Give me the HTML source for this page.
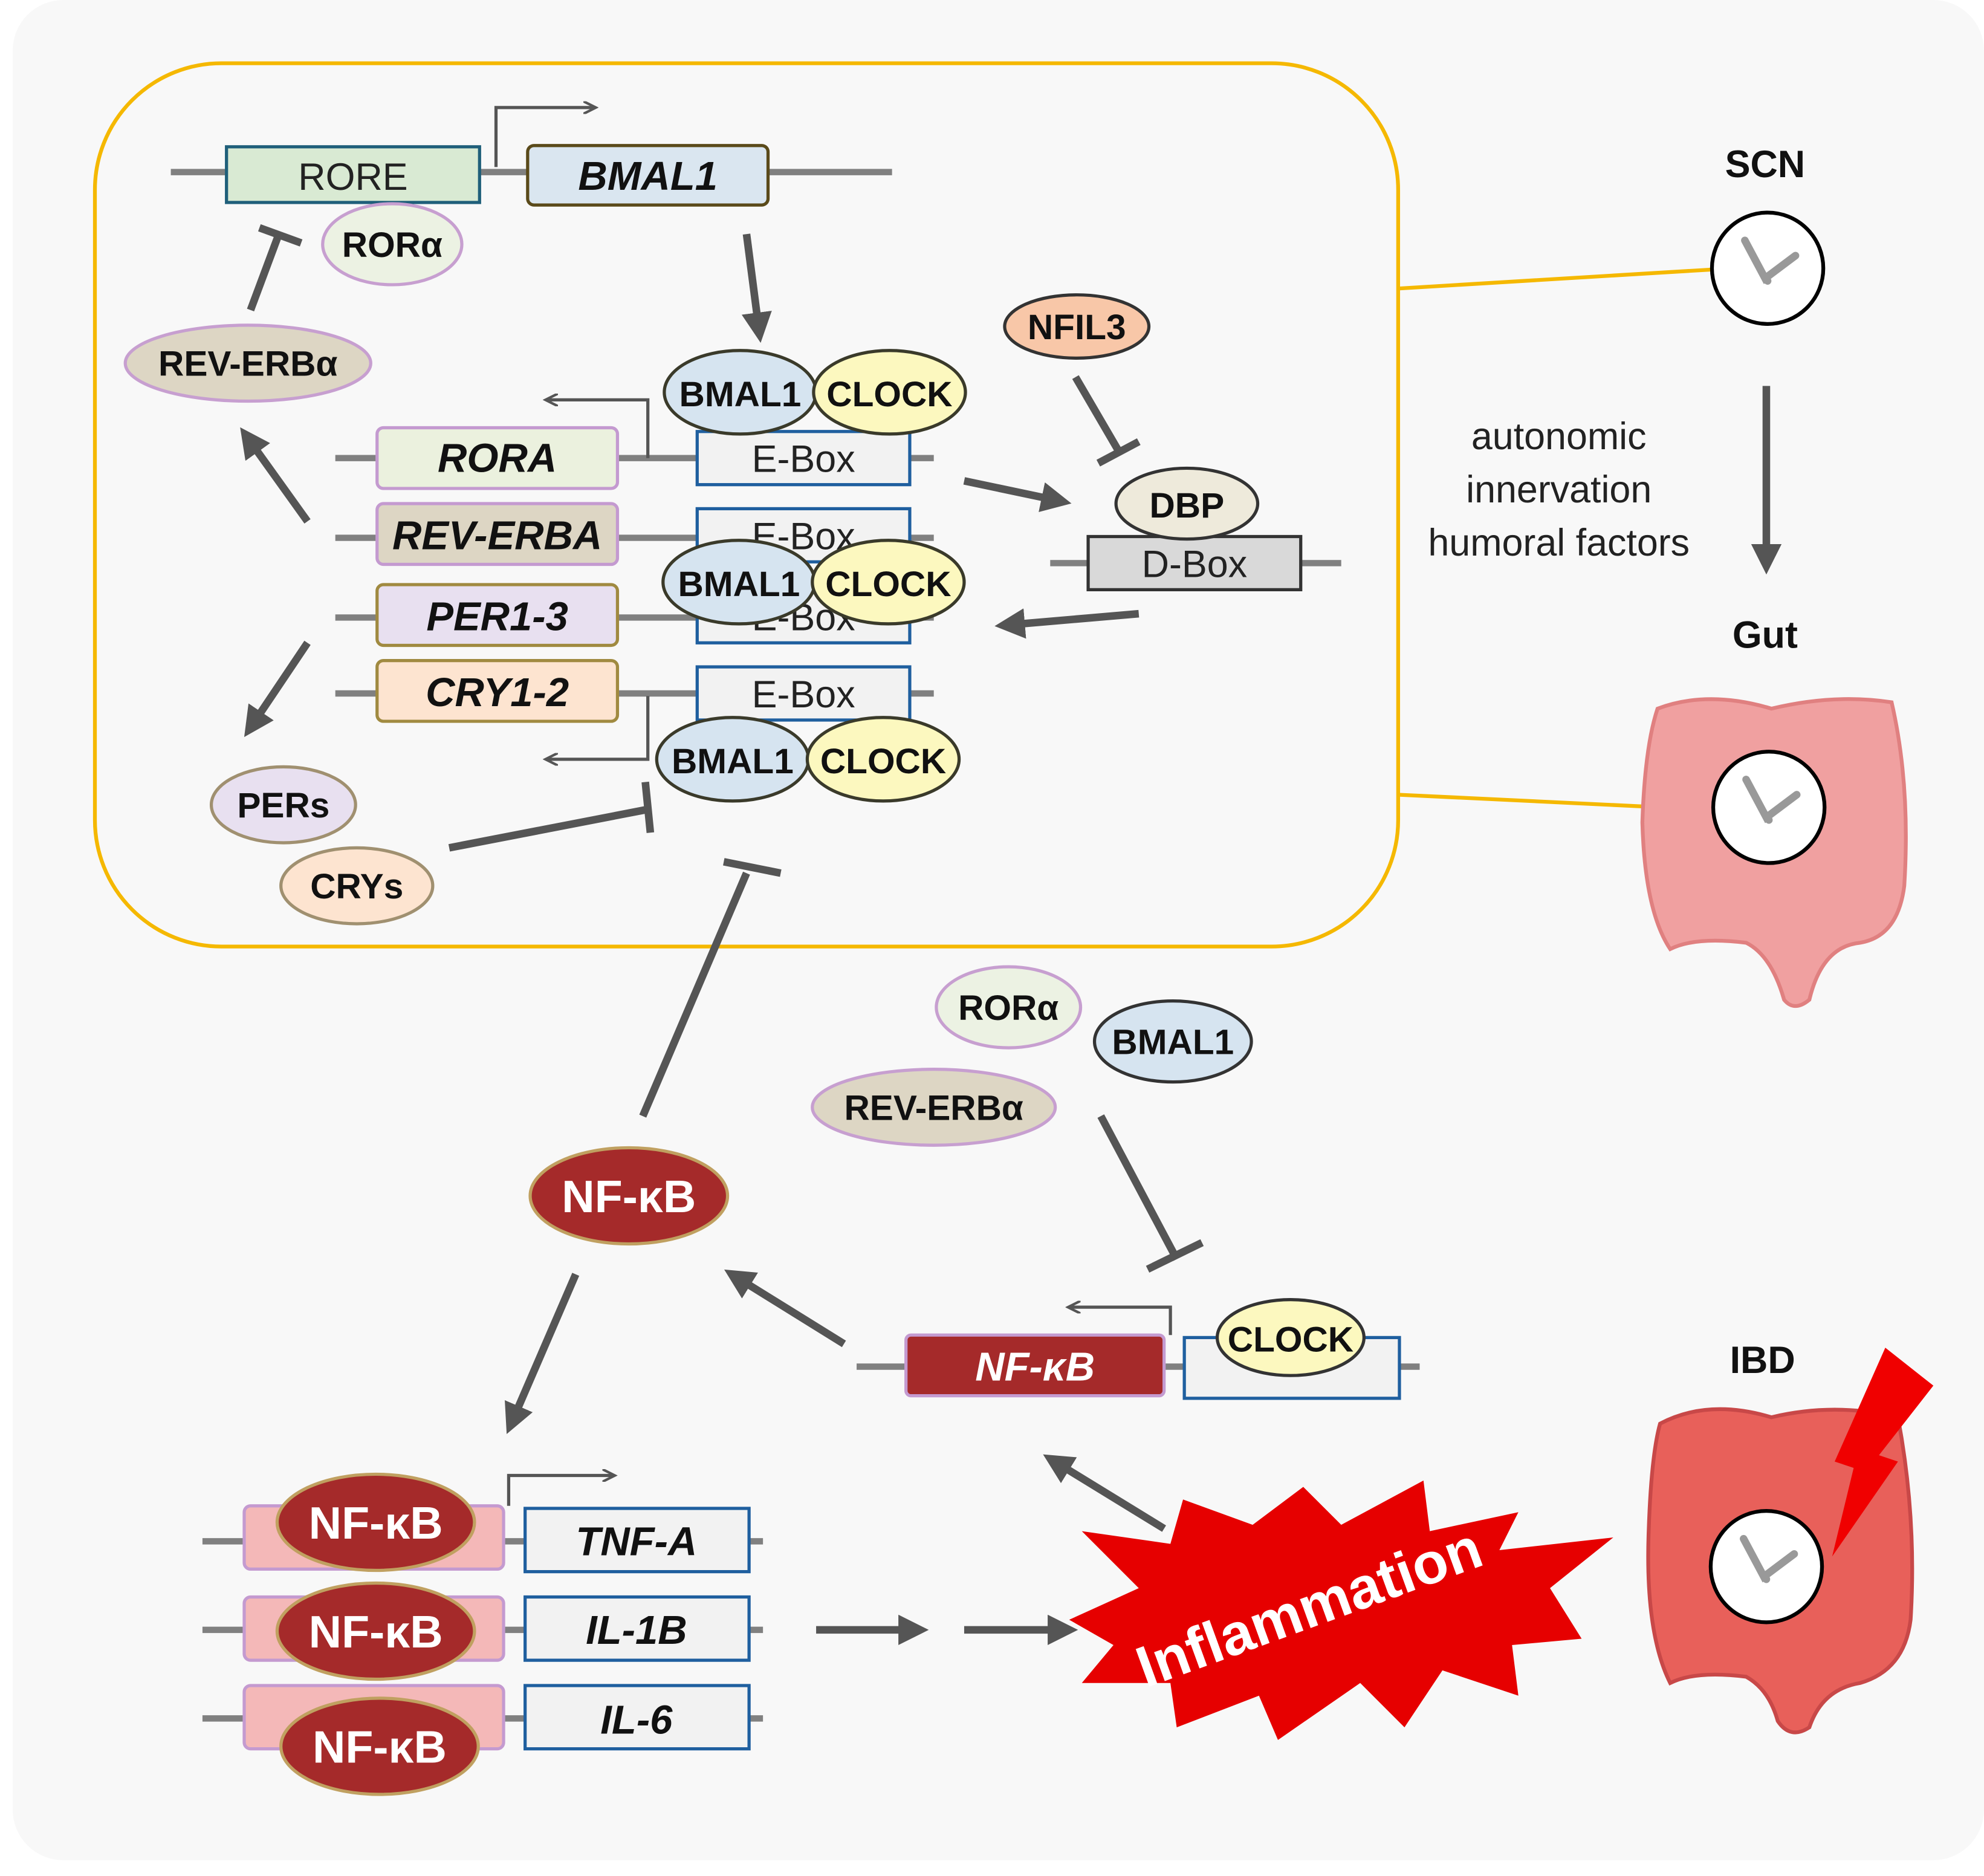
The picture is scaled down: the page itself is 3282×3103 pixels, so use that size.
<!DOCTYPE html>
<html><head><meta charset="utf-8"><style>
html,body{margin:0;padding:0;background:#fff;}
svg{display:block;}
text{font-family:"Liberation Sans",sans-serif;}
</style></head><body>
<svg width="3282" height="3103" viewBox="0 0 1568 1482.5" xmlns="http://www.w3.org/2000/svg">
<defs>
<marker id="ah" markerWidth="4" markerHeight="4" refX="2.5" refY="2" orient="auto" markerUnits="strokeWidth"><path d="M0,0 L4,2 L0,4 z" fill="#555"/></marker>
<marker id="ta" markerWidth="12" markerHeight="10" refX="9" refY="5" orient="auto" markerUnits="userSpaceOnUse"><path d="M0,0 L10,5 L0,10" fill="none" stroke="#555" stroke-width="2"/></marker>
<g id="clk"><circle r="44" fill="#fff" stroke="#000" stroke-width="3"/><path d="M-18,-22 L-2,8 L22,-10 M-2,8 L0,10" stroke="#999" stroke-width="6" fill="none" stroke-linecap="round"/></g>
</defs>
<rect x="10" y="0" width="1558" height="1470" rx="40" fill="#f8f8f8"/>
<rect x="75" y="50" width="1030" height="698" rx="100" fill="none" stroke="#f5b800" stroke-width="3"/>
<g fill="none" stroke="#808080" stroke-width="5">
<line x1="135" y1="136" x2="705" y2="136"/>
<line x1="265" y1="362" x2="738" y2="362"/><line x1="265" y1="425" x2="738" y2="425"/>
<line x1="265" y1="488" x2="738" y2="488"/><line x1="265" y1="548" x2="738" y2="548"/>
<line x1="830" y1="445" x2="1060" y2="445"/>
<line x1="677" y1="1080" x2="1122" y2="1080"/>
<line x1="160" y1="1218" x2="603" y2="1218"/><line x1="160" y1="1288" x2="603" y2="1288"/><line x1="160" y1="1358" x2="603" y2="1358"/>
</g>
<g stroke-width="2.5">
<rect x="179" y="116" width="200" height="44" fill="#d9ead3" stroke="#1f5f7a"/>
<rect x="417" y="115" width="190" height="47" rx="5" fill="#dae6f0" stroke="#5a4a1a"/>
<rect x="298" y="338" width="190" height="48" rx="5" fill="#ebf1de" stroke="#c49ad0"/>
<rect x="298" y="398" width="190" height="48" rx="5" fill="#ddd6c4" stroke="#c49ad0"/>
<rect x="298" y="462" width="190" height="48" rx="5" fill="#e8e0f0" stroke="#a08a40"/>
<rect x="298" y="522" width="190" height="48" rx="5" fill="#fde4d0" stroke="#a08a40"/>
<rect x="551" y="341" width="168" height="42" fill="#f2f2f2" stroke="#1f5f9f"/>
<rect x="551" y="402" width="168" height="42" fill="#f2f2f2" stroke="#1f5f9f"/>
<rect x="551" y="466" width="168" height="42" fill="#f2f2f2" stroke="#1f5f9f"/>
<rect x="551" y="527" width="168" height="42" fill="#f2f2f2" stroke="#1f5f9f"/>
<rect x="860" y="424" width="168" height="42" fill="#d9d9d9" stroke="#333"/>
<rect x="716" y="1055" width="204" height="48" rx="4" fill="#a52a2a" stroke="#c49ad0"/>
<rect x="936" y="1057" width="170" height="48" fill="#f2f2f2" stroke="#1f5f9f"/>
<rect x="193" y="1190" width="205" height="50" rx="5" fill="#f4b8b8" stroke="#c49ad0"/>
<rect x="193" y="1262" width="205" height="50" rx="5" fill="#f4b8b8" stroke="#c49ad0"/>
<rect x="193" y="1332" width="205" height="50" rx="5" fill="#f4b8b8" stroke="#c49ad0"/>
<rect x="415" y="1192" width="177" height="50" fill="#f2f2f2" stroke="#1f5f9f"/>
<rect x="415" y="1262" width="177" height="50" fill="#f2f2f2" stroke="#1f5f9f"/>
<rect x="415" y="1332" width="177" height="50" fill="#f2f2f2" stroke="#1f5f9f"/>
</g>
<g font-size="30" text-anchor="middle" fill="#222">
<text x="279" y="150">RORE</text>
<text x="635" y="373">E-Box</text><text x="635" y="434">E-Box</text><text x="635" y="498">E-Box</text><text x="635" y="559">E-Box</text>
<text x="944" y="456">D-Box</text>
</g>
<g font-size="32" font-weight="bold" font-style="italic" text-anchor="middle" fill="#111">
<text x="512" y="150">BMAL1</text><text x="393" y="373">RORA</text><text x="393" y="434">REV-ERBA</text>
<text x="393" y="498">PER1-3</text><text x="393" y="558">CRY1-2</text>
<text x="503" y="1229">TNF-A</text><text x="503" y="1299">IL-1B</text><text x="503" y="1370">IL-6</text>
<text x="818" y="1091" fill="#fff">NF-κB</text>
</g>
<!-- promoter arrows -->
<g fill="none" stroke="#555" stroke-width="2.5">
<path d="M392,132 V85 H470" marker-end="url(#ta)"/>
<path d="M512,362 V316 H432" marker-end="url(#ta)"/>
<path d="M512,550 V600 H432" marker-end="url(#ta)"/>
<path d="M925,1055 V1033 H845" marker-end="url(#ta)"/>
<path d="M402,1190 V1166 H485" marker-end="url(#ta)"/>
</g>
<!-- ellipses -->
<g stroke-width="2.5">
<ellipse cx="310" cy="193" rx="55" ry="32" fill="#ecf2e3" stroke="#c79fd0"/>
<ellipse cx="196" cy="287" rx="97" ry="30" fill="#ddd6c4" stroke="#c79fd0"/>
<ellipse cx="585" cy="310" rx="60" ry="33" fill="#d6e4f0" stroke="#3a3a2a"/>
<ellipse cx="703" cy="310" rx="60" ry="33" fill="#fcf8bf" stroke="#3a3a2a"/>
<ellipse cx="584" cy="460" rx="60" ry="33" fill="#d6e4f0" stroke="#3a3a2a"/>
<ellipse cx="702" cy="460" rx="60" ry="33" fill="#fcf8bf" stroke="#3a3a2a"/>
<ellipse cx="579" cy="600" rx="60" ry="33" fill="#d6e4f0" stroke="#3a3a2a"/>
<ellipse cx="698" cy="600" rx="60" ry="33" fill="#fcf8bf" stroke="#3a3a2a"/>
<ellipse cx="224" cy="636" rx="57" ry="30" fill="#e8e0f0" stroke="#a09070"/>
<ellipse cx="282" cy="700" rx="60" ry="30" fill="#fde4d0" stroke="#a09070"/>
<ellipse cx="851" cy="258" rx="57" ry="25" fill="#f8c7a8" stroke="#333"/>
<ellipse cx="938" cy="398" rx="56" ry="28" fill="#eeeadb" stroke="#333"/>
<ellipse cx="797" cy="796" rx="57" ry="32" fill="#ecf2e3" stroke="#c79fd0"/>
<ellipse cx="927" cy="823" rx="62" ry="32" fill="#d6e4f0" stroke="#333"/>
<ellipse cx="738" cy="875" rx="96" ry="30" fill="#ddd6c4" stroke="#c79fd0"/>
<ellipse cx="1020" cy="1057" rx="58" ry="30" fill="#fcf8bf" stroke="#333"/>
<ellipse cx="497" cy="945" rx="78" ry="38" fill="#a52a2a" stroke="#c0a060"/>
<ellipse cx="297" cy="1203" rx="78" ry="38" fill="#a52a2a" stroke="#c0a060"/>
<ellipse cx="297" cy="1289" rx="78" ry="38" fill="#a52a2a" stroke="#c0a060"/>
<ellipse cx="300" cy="1380" rx="78" ry="38" fill="#a52a2a" stroke="#c0a060"/>
</g>
<g font-size="28" font-weight="bold" text-anchor="middle" fill="#111">
<text x="310" y="203">RORα</text><text x="196" y="297">REV-ERBα</text>
<text x="585" y="321">BMAL1</text><text x="703" y="321">CLOCK</text>
<text x="584" y="471">BMAL1</text><text x="702" y="471">CLOCK</text>
<text x="579" y="611">BMAL1</text><text x="698" y="611">CLOCK</text>
<text x="224" y="646">PERs</text><text x="282" y="710">CRYs</text>
<text x="851" y="268">NFIL3</text><text x="938" y="409">DBP</text>
<text x="797" y="806">RORα</text><text x="927" y="833">BMAL1</text><text x="738" y="885">REV-ERBα</text>
<text x="1020" y="1068">CLOCK</text>
</g>
<g font-size="36" font-weight="bold" text-anchor="middle" fill="#fff">
<text x="497" y="958">NF-κB</text><text x="297" y="1216">NF-κB</text><text x="297" y="1302">NF-κB</text><text x="300" y="1393">NF-κB</text>
</g>
<!-- arrows -->
<g stroke="#555" stroke-width="6" fill="none" marker-end="url(#ah)">
<line x1="590" y1="185" x2="600" y2="262"/>
<line x1="243" y1="412" x2="195" y2="345"/>
<line x1="243" y1="508" x2="198" y2="575"/>
<line x1="762" y1="380" x2="838" y2="396"/>
<line x1="900" y1="485" x2="795" y2="494"/>
<line x1="1396" y1="305" x2="1396" y2="445"/>
<line x1="667" y1="1062" x2="580" y2="1008"/>
<line x1="455" y1="1007" x2="404" y2="1125"/>
<line x1="920" y1="1208" x2="832" y2="1154"/>
<line x1="645" y1="1288" x2="725" y2="1288"/>
<line x1="762" y1="1288" x2="843" y2="1288"/>
</g>
<!-- inhibitions -->
<g stroke="#555" stroke-width="6" fill="none">
<line x1="198" y1="245" x2="220" y2="186"/><line x1="205" y1="180" x2="238" y2="192"/>
<line x1="355" y1="670" x2="510" y2="640"/><line x1="510" y1="618" x2="514" y2="658"/>
<line x1="850" y1="298" x2="885" y2="358"/><line x1="868" y1="366" x2="900" y2="349"/>
<line x1="508" y1="882" x2="590" y2="690"/><line x1="572" y1="681" x2="617" y2="690"/>
<line x1="870" y1="882" x2="930" y2="995"/><line x1="907" y1="1003" x2="950" y2="982"/>
</g>
<!-- right side -->
<line x1="1105" y1="228" x2="1353" y2="213" stroke="#f5b800" stroke-width="3"/>
<line x1="1105" y1="628" x2="1355" y2="640" stroke="#f5b800" stroke-width="3"/>
<g font-size="30" font-weight="bold" text-anchor="middle" fill="#111">
<text x="1395" y="140">SCN</text><text x="1395" y="512">Gut</text><text x="1393" y="1085">IBD</text>
</g>
<g font-size="30" text-anchor="middle" fill="#222">
<text x="1232" y="355">autonomic</text><text x="1232" y="397">innervation</text><text x="1232" y="439">humoral  factors</text>
</g>
<use href="#clk" x="1397" y="212"/>
<!-- gut -->
<path d="M1310,560 Q1350,545 1400,560 Q1450,548 1495,555 Q1510,620 1505,700 Q1500,740 1470,745 Q1440,748 1430,790 Q1418,800 1410,790 Q1400,755 1380,745 Q1340,740 1320,750 Q1300,720 1298,650 Q1300,590 1310,560 Z" fill="#f0a0a0" stroke="#e08080" stroke-width="3"/>
<use href="#clk" x="1398" y="638"/>
<path d="M1312,1125 Q1350,1105 1400,1120 Q1450,1108 1500,1120 Q1515,1200 1510,1280 Q1505,1320 1470,1330 Q1440,1335 1430,1365 Q1415,1375 1405,1360 Q1398,1335 1380,1325 Q1340,1320 1320,1330 Q1300,1290 1303,1210 Q1305,1150 1312,1125 Z" fill="#e8605a" stroke="#c84848" stroke-width="3"/>
<use href="#clk" x="1396" y="1238"/>
<path d="M1490,1065 L1528,1095 L1485,1150 L1500,1155 L1448,1230 L1465,1160 L1450,1155 Z" fill="#f00000"/>
<!-- inflammation -->
<path d="M845,1280 L900,1255 L855,1210 L925,1220 L935,1185 L990,1205 L1030,1175 L1060,1205 L1125,1170 L1130,1210 L1200,1195 L1185,1225 L1275,1215 L1225,1255 L1250,1295 L1195,1300 L1200,1340 L1140,1320 L1110,1365 L1075,1330 L1010,1375 L995,1340 L930,1365 L925,1330 L855,1330 L880,1300 Z" fill="#e60000"/>
<text x="1040" y="1285" font-size="46" font-weight="bold" fill="#fff" text-anchor="middle" transform="rotate(-20 1040 1285)">Inflammation</text>
</svg>
</body></html>
